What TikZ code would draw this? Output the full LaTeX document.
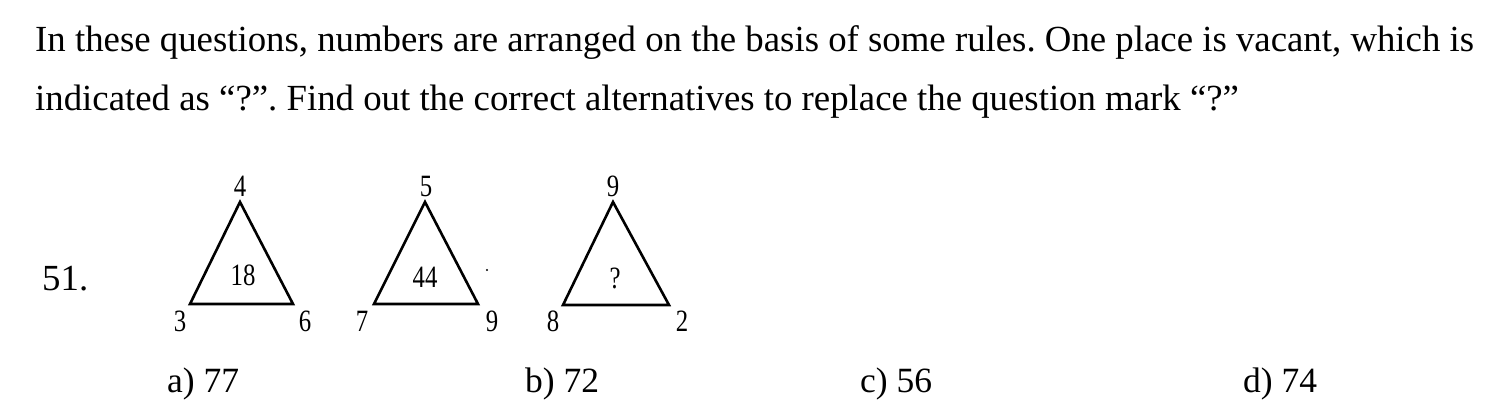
\documentclass[tikz,border=0pt]{standalone}
\usepackage{fontspec}
\setmainfont{Liberation Serif}
\newfontfamily\cond[FakeStretch=0.8]{Liberation Serif}
\frenchspacing
\begin{document}
\begin{tikzpicture}[x=1pt,y=-1pt,
  txt/.style={anchor=base west,inner sep=0pt,font=\fontsize{36.8}{40}\selectfont},
  opt/.style={anchor=base west,inner sep=0pt,font=\fontsize{35.5}{40}\selectfont},
  num/.style={inner sep=0pt,font=\cond\fontsize{31}{34}\selectfont},
  tri/.style={line width=2.6pt,line join=miter}]
\useasboundingbox (0,0) rectangle (1512,418);
\node[txt] (l1) at (35,51) {In these questions, numbers are arranged on the basis of some rules. One place is vacant, which is};
\node[txt] (l2) at (35,110) {indicated as “?”. Find out the correct alternatives to replace the question mark “?”};
\node[txt] (q) at (42,290) {51.};
% triangle 1
\coordinate (a1) at (240,202); \coordinate (b1) at (190,304); \coordinate (c1) at (293,304);
\draw[tri] (a1) -- (b1) -- (c1) -- cycle;
\node[num] (t1) at (240,186) {4};
\node[num] (l1n) at (180,321) {3};
\node[num] (r1n) at (305,321) {6};
\node[num] (m1) at (243,275) {18};
% triangle 2
\coordinate (a2) at (425,202); \coordinate (b2) at (374,304); \coordinate (c2) at (478,304);
\draw[tri] (a2) -- (b2) -- (c2) -- cycle;
\node[num] (t2) at (426,186) {5};
\node[num] (l2n) at (362,321) {7};
\node[num] (r2n) at (492,321) {9};
\node[num] (m2) at (425,277) {44};
\fill (487,270) circle (1.1pt);
% triangle 3
\coordinate (a3) at (613,202); \coordinate (b3) at (563,305); \coordinate (c3) at (669,305);
\draw[tri] (a3) -- (b3) -- (c3) -- cycle;
\node[num] (t3) at (613,186) {9};
\node[num] (l3n) at (553,321) {8};
\node[num] (r3n) at (682,321) {2};
\node[num] (m3) at (615,278) {?};
% answers
\node[opt] (oa) at (167,392) {a) 77};
\node[opt] (ob) at (525,392) {b) 72};
\node[opt] (oc) at (860,392) {c) 56};
\node[opt] (od) at (1243,392) {d) 74};
\end{tikzpicture}
\end{document}
